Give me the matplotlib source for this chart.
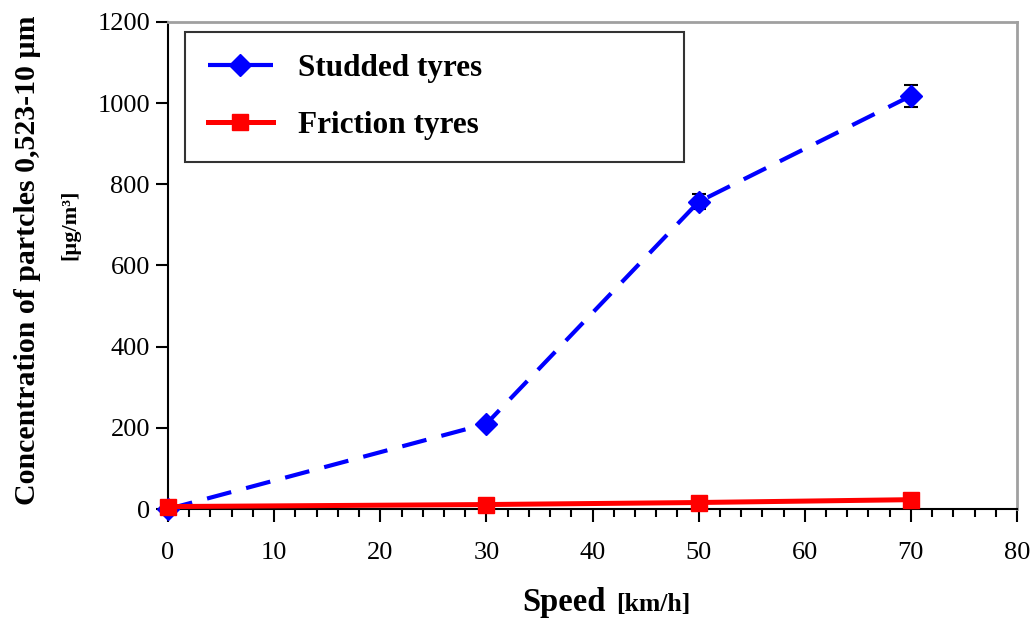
import matplotlib.pyplot as plt
from matplotlib.lines import Line2D
from matplotlib.ticker import MultipleLocator

plt.rcParams['font.family'] = ['Liberation Serif', 'DejaVu Serif']

speed = [0, 30, 50, 70]
studded = [0, 210, 757, 1018]
studded_err = [0, 6, 18, 27]
friction = [6, 11, 16, 23]

blue = '#0000ff'
red = '#ff0000'
dash = (0, (6, 3.7))

fig = plt.figure(figsize=(10.34, 6.19), dpi=100)
ax = fig.add_axes([0.1625, 0.1777, 0.8211, 0.7868])

ax.errorbar(speed, studded, yerr=studded_err, color=blue, ls=dash, lw=3,
            marker='D', ms=11, ecolor='black', elinewidth=1.1,
            capsize=5, capthick=1.5, zorder=3, clip_on=False)
ax.plot(speed, friction, color=red, lw=3.6, marker='s', ms=12,
        zorder=4, clip_on=False)

ax.set_xlim(0, 80)
ax.set_ylim(0, 1200)
ax.xaxis.set_major_locator(MultipleLocator(10))
ax.xaxis.set_minor_locator(MultipleLocator(2))
ax.yaxis.set_major_locator(MultipleLocator(200))

for side in ('top', 'right'):
    ax.spines[side].set_color('#a0a0a0')
    ax.spines[side].set_linewidth(2)
for side in ('left', 'bottom'):
    ax.spines[side].set_linewidth(1.5)

ax.tick_params(axis='both', which='major', direction='out', length=9, width=1.5,
               labelsize=19)
ax.tick_params(axis='x', which='major', pad=15)
ax.tick_params(axis='x', which='minor', direction='out', length=6, width=1.5)
ax.tick_params(axis='y', pad=4)

handles = [
    Line2D([], [], color=blue, ls=dash, lw=3, marker='D', ms=11),
    Line2D([], [], color=red, lw=3.6, marker='s', ms=12),
]
leg = ax.legend(handles, ['Studded tyres', 'Friction tyres'], loc='upper left',
                bbox_to_anchor=(0.020, 0.0, 0.588, 0.98), mode='expand',
                frameon=True, fancybox=False, edgecolor='#333333', framealpha=1,
                prop={'weight': 'bold', 'size': 22.5}, handlelength=2.1,
                handletextpad=0.8, labelspacing=0.88, borderpad=0.72,
                borderaxespad=0)
leg.get_frame().set_linewidth(1.5)
leg.set_zorder(5)

fig.text(0.027, 0.58, 'Concentration of partcles 0,523-10 µm', rotation=90,
         ha='center', va='center', fontsize=21.5, fontweight='bold')
fig.text(0.068, 0.637, '[µg/m³]', rotation=90, ha='center', va='center',
         fontsize=16, fontweight='bold')

fig.text(0.586, 0.013, 'Speed', ha='right', va='baseline', fontsize=23.5,
         fontweight='bold')
fig.text(0.596, 0.013, '[km/h]', ha='left', va='baseline', fontsize=18.5,
         fontweight='bold')

fig.savefig('out.png', dpi=100)
